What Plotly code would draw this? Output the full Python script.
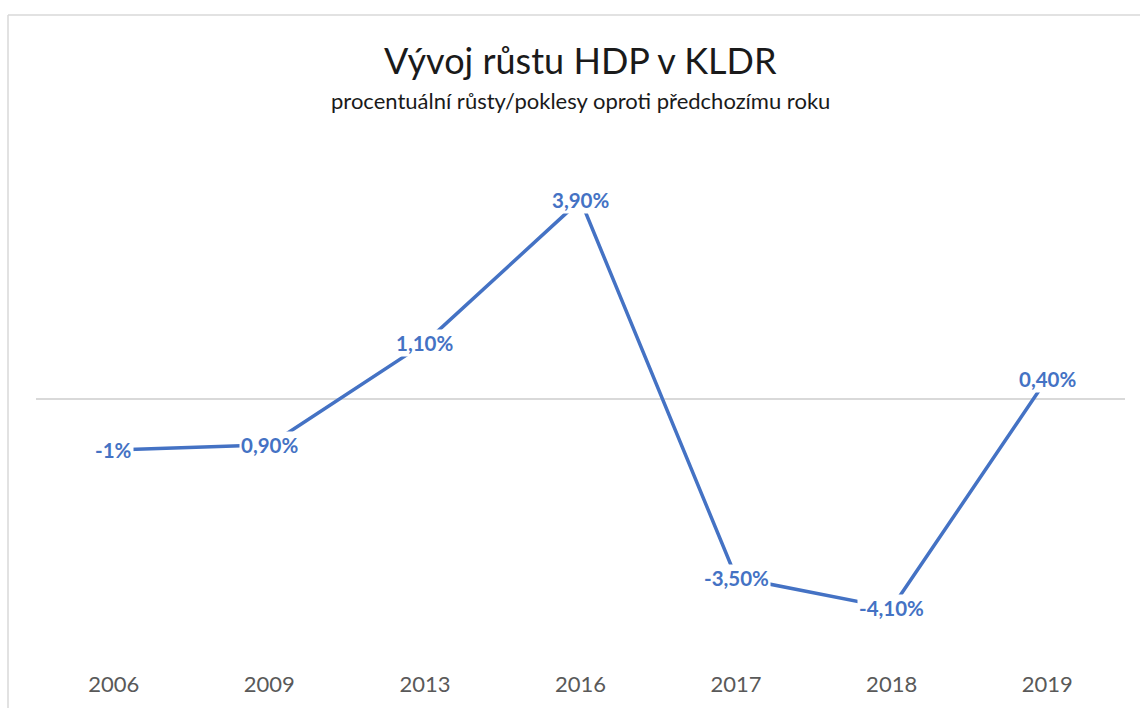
import plotly.graph_objects as go

years = ["2006", "2009", "2013", "2016", "2017", "2018", "2019"]
growth = [-1.0, -0.9, 1.1, 3.9, -3.5, -4.1, 0.4]
labels = ["-1%", "0,90%", "1,10%", "3,90%", "-3,50%", "-4,10%", "0,40%"]

title = "Vývoj růstu HDP v KLDR"
subtitle = "procentuální růsty/poklesy oproti předchozímu roku"

BLUE = "#4472C4"
FONT = "Lato"

W, H = 1140, 708
# plot area in window pixels
PL, PR, PT, PB = 36, 1125, 144, 654
ML, MR, MT, MB = PL, W - PR, PT, H - PB
pw = W - ML - MR
ph = H - MT - MB


def py(wy):
    """window y pixel -> paper y"""
    return 1 + (PT - wy) / ph


def px(wx):
    return (wx - PL) / pw


fig = go.Figure()
fig.add_trace(go.Scatter(
    x=years, y=growth, mode="lines",
    line=dict(color=BLUE, width=3.5),
    hoverinfo="skip", showlegend=False,
))

annotations = []
for i, (v, t) in enumerate(zip(growth, labels)):
    annotations.append(dict(
        x=i, y=v, xref="x", yref="y", text="<b>" + t + "</b>",
        showarrow=False, bgcolor="white", borderpad=1,
        font=dict(family=FONT, size=20.5, color=BLUE),
        xanchor="center", yanchor="middle",
    ))

annotations.append(dict(
    x=0.5, y=py(60), xref="paper", yref="paper",
    text=title, showarrow=False, xanchor="center", yanchor="middle",
    font=dict(family=FONT, size=36, color="#1a1a1a"),
))
annotations.append(dict(
    x=0.5, y=py(100), xref="paper", yref="paper",
    text=subtitle, showarrow=False, xanchor="center", yanchor="middle",
    font=dict(family=FONT, size=22, color="#1a1a1a"),
))

border = dict(color="#D9D9D9", width=1.5)
fig.update_layout(
    width=W, height=H,
    margin=dict(l=ML, r=MR, t=MT, b=MB),
    paper_bgcolor="white", plot_bgcolor="white",
    annotations=annotations,
    xaxis=dict(
        type="category", range=[-0.5, len(years) - 0.5],
        showgrid=False, showline=False, zeroline=False,
        ticks="outside", ticklen=11, tickcolor="rgba(0,0,0,0)",
        tickfont=dict(family=FONT, size=22, color="#595959"),
        fixedrange=True,
    ),
    yaxis=dict(
        range=[-5, 5], showgrid=False, showticklabels=False, showline=False,
        zeroline=True, zerolinecolor="#D9D9D9", zerolinewidth=1.5,
        fixedrange=True,
    ),
    shapes=[
        dict(type="line", xref="paper", yref="paper",
             x0=px(8), x1=px(W), y0=py(15), y1=py(15),
             line=border, layer="below"),
        dict(type="line", xref="paper", yref="paper",
             x0=px(8), x1=px(8), y0=py(15), y1=py(H),
             line=border, layer="below"),
    ],
)

fig.write_html(
    "out.html",
    config={"displayModeBar": False},
    post_script="document.body.style.margin='0';"
                "document.body.style.overflow='hidden';",
)
